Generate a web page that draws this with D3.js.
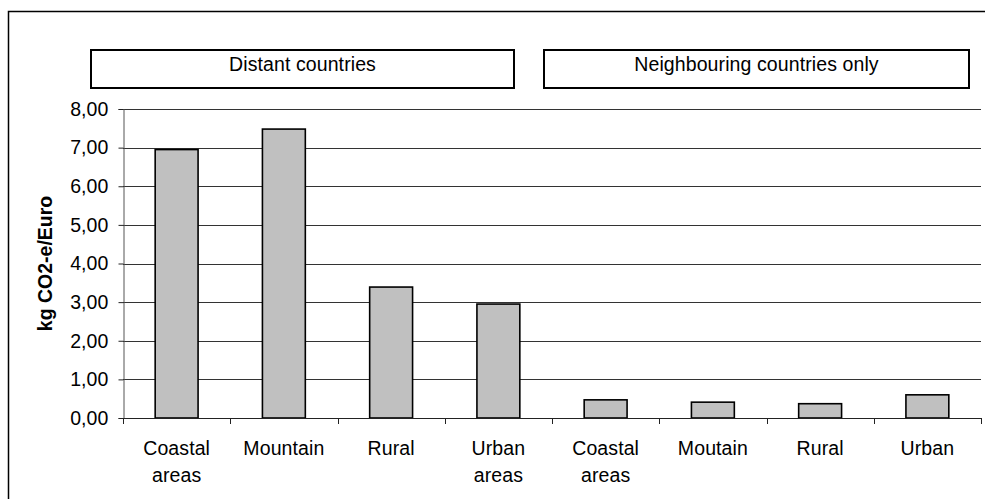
<!DOCTYPE html>
<html>
<head>
<meta charset="utf-8">
<script src="https://cdn.jsdelivr.net/npm/d3@7"></script>
<style>
  html, body { margin: 0; padding: 0; background: #fff; }
  svg { display: block; font-family: "Liberation Sans", Arial, sans-serif; }
</style>
</head>
<body>
<svg id="chart" width="985" height="499"></svg>
<script>
// Emission intensity by destination type, split by travel range
const categories = ["Coastal areas", "Mountain", "Rural", "Urban areas",
                    "Coastal areas", "Moutain", "Rural", "Urban"];
const values = [6.95, 7.48, 3.39, 2.95, 0.47, 0.41, 0.37, 0.60];
const groups = ["Distant countries", "Neighbouring countries only"];
const yTicks = [0, 1, 2, 3, 4, 5, 6, 7, 8];
const yTitle = "kg CO2-e/Euro";

const svg = d3.select("#chart");
const W = 985, H = 499;
const plot = { left: 123, right: 981, top: 109, bottom: 418 };
const fontSize = 19.5, spacing = 0.1;

// outer chart frame (runs past the right and bottom edges)
svg.append("rect")
  .attr("x", 8.5).attr("y", 11.5)
  .attr("width", W + 20).attr("height", H + 20)
  .attr("fill", "#fff").attr("stroke", "#000").attr("stroke-width", 1.5);

const idx = d3.range(categories.length);
const slot = d3.scaleBand().domain(idx).range([plot.left, plot.right]).padding(0);
const x = d3.scaleBand().domain(idx).range([plot.left, plot.right])
  .paddingInner(0.6).paddingOuter(0.3);
const y = d3.scaleLinear().domain([0, 8]).range([plot.bottom, plot.top]);

const fmt = d3.formatLocale({ decimal: ",", thousands: ".", grouping: [3], currency: ["", ""] }).format(".2f");

// horizontal gridlines
svg.append("g").selectAll("line").data(yTicks.filter(d => d > 0)).join("line")
  .attr("x1", plot.left).attr("x2", plot.right)
  .attr("y1", d => Math.round(y(d)) + 0.5).attr("y2", d => Math.round(y(d)) + 0.5)
  .attr("stroke", "#333").attr("stroke-width", 1);

// y axis
const yAxis = svg.append("g")
  .attr("transform", `translate(${plot.left + 0.5},0)`)
  .call(d3.axisLeft(y).tickValues(yTicks).tickFormat(fmt).tickSize(5).tickPadding(10));
yAxis.select(".domain").attr("stroke", "#555");
yAxis.selectAll(".tick line").attr("stroke", "#222");
yAxis.selectAll("text")
  .attr("font-size", fontSize).attr("letter-spacing", spacing)
  .attr("fill", "#000").attr("font-family", "Liberation Sans, Arial, sans-serif");

// bars
svg.append("g").selectAll("rect").data(values).join("rect")
  .attr("x", (d, i) => x(i))
  .attr("width", x.bandwidth())
  .attr("y", d => y(d))
  .attr("height", d => y(0) - y(d))
  .attr("fill", "#c0c0c0").attr("stroke", "#000").attr("stroke-width", 1.6);

// x axis line and category boundary ticks
svg.append("line")
  .attr("x1", plot.left).attr("x2", plot.right)
  .attr("y1", plot.bottom + 0.5).attr("y2", plot.bottom + 0.5)
  .attr("stroke", "#222").attr("stroke-width", 1);
const bounds = idx.map(i => slot(i)).concat([plot.right]);
svg.append("g").selectAll("line").data(bounds).join("line")
  .attr("x1", d => Math.round(d) + 0.5).attr("x2", d => Math.round(d) + 0.5)
  .attr("y1", plot.bottom).attr("y2", plot.bottom + 6)
  .attr("stroke", "#222");

// category labels, wrapped onto two lines where needed
const catLabels = svg.append("g").selectAll("text").data(categories).join("text")
  .attr("text-anchor", "middle")
  .attr("font-size", fontSize).attr("letter-spacing", spacing)
  .attr("fill", "#000")
  .attr("transform", (d, i) => `translate(${slot(i) + slot.bandwidth() / 2},455)`);
catLabels.each(function (d) {
  const words = d.split(" ");
  d3.select(this).selectAll("tspan").data(words).join("tspan")
    .attr("x", 0).attr("y", (w, k) => k * 27).text(w => w);
});

// y axis title
svg.append("text")
  .attr("transform", `translate(52,${(plot.top + plot.bottom) / 2}) rotate(-90)`)
  .attr("text-anchor", "middle")
  .attr("font-size", fontSize).attr("font-weight", "bold")
  .text(yTitle);

// group header boxes
const boxes = [
  { x0: 91, x1: 514 },
  { x0: 544, x1: 969 }
];
const header = svg.append("g").selectAll("g").data(groups).join("g");
header.append("rect")
  .attr("x", (d, i) => boxes[i].x0).attr("y", 50)
  .attr("width", (d, i) => boxes[i].x1 - boxes[i].x0).attr("height", 38)
  .attr("fill", "#fff").attr("stroke", "#000").attr("stroke-width", 2);
header.append("text")
  .attr("x", (d, i) => (boxes[i].x0 + boxes[i].x1) / 2).attr("y", 70.5)
  .attr("text-anchor", "middle")
  .attr("font-size", fontSize).attr("letter-spacing", spacing)
  .text(d => d);
</script>
</body>
</html>
